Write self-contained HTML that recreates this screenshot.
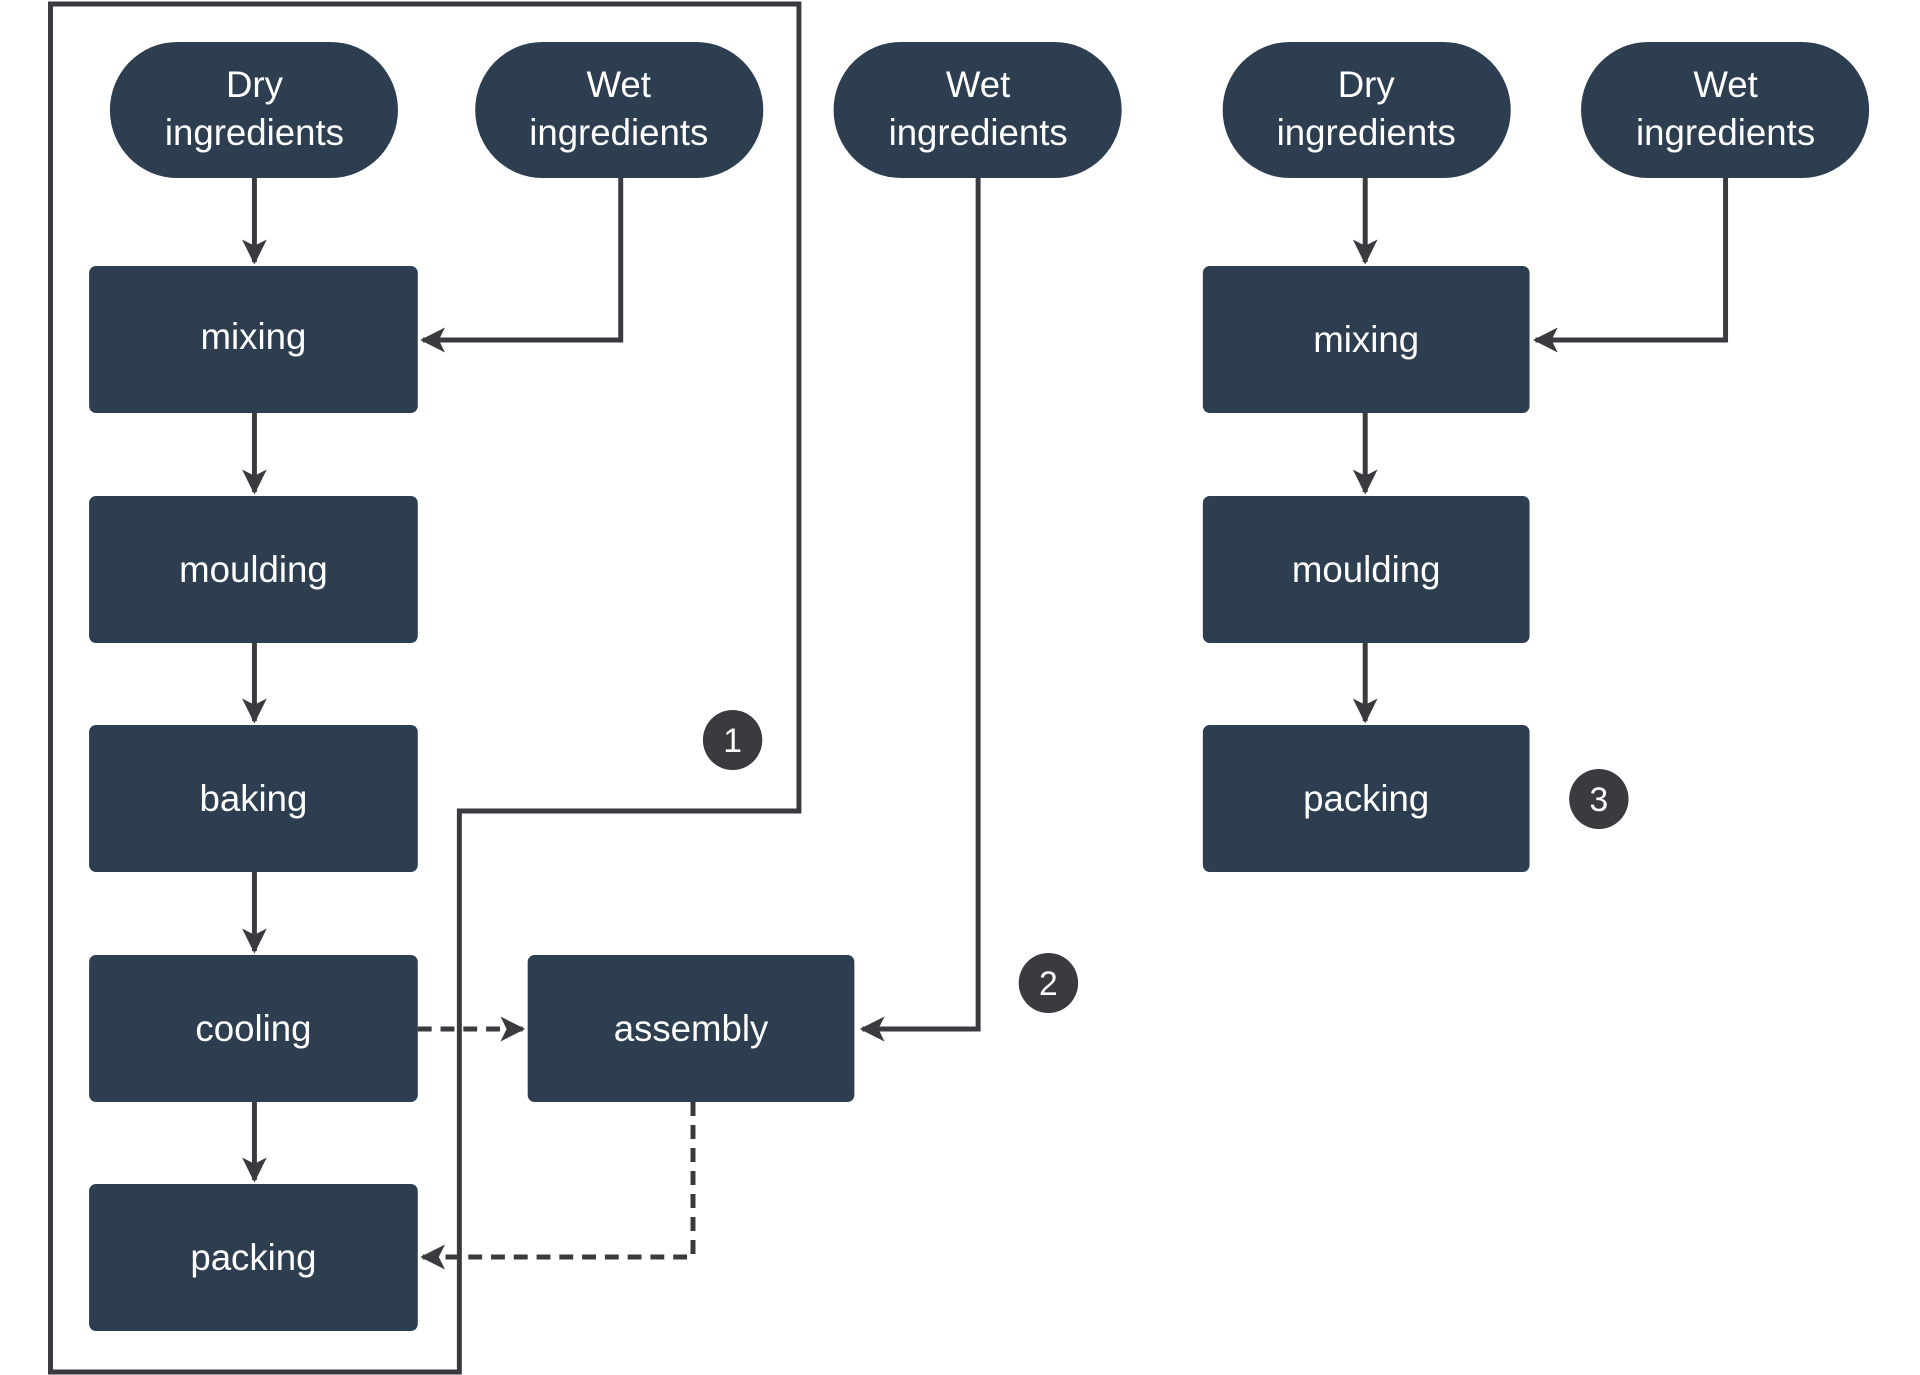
<!DOCTYPE html>
<html><head><style>html,body{margin:0;padding:0;background:#fff}svg{display:block}</style></head>
<body>
<svg width="1920" height="1375" viewBox="0 0 1920 1375" xmlns="http://www.w3.org/2000/svg" font-family="Liberation Sans, sans-serif">
<defs>
<marker id="a" viewBox="0 0 10 10" refX="9" refY="5" markerWidth="5" markerHeight="5" orient="auto" markerUnits="strokeWidth"><path d="M0,0 L10,5 L0,10 L2.5,5 z" fill="#3a3a3f"/></marker>
</defs>
<g transform="scale(0.99,1)">
<g fill="none" stroke="#3a3a3f" stroke-width="5">
<path d="M51,4 H807 V811 H464 V1372 H51 Z"/>
</g>
<g fill="#2d3e50">
<rect x="111" y="42" width="291" height="136" rx="68"/>
<rect x="480" y="42" width="291" height="136" rx="68"/>
<rect x="842" y="42" width="291" height="136" rx="68"/>
<rect x="1235" y="42" width="291" height="136" rx="68"/>
<rect x="1597" y="42" width="291" height="136" rx="68"/>
<rect x="90" y="266" width="332" height="147" rx="7"/>
<rect x="90" y="496" width="332" height="147" rx="7"/>
<rect x="90" y="725" width="332" height="147" rx="7"/>
<rect x="90" y="955" width="332" height="147" rx="7"/>
<rect x="90" y="1184" width="332" height="147" rx="7"/>
<rect x="1215" y="266" width="330" height="147" rx="7"/>
<rect x="1215" y="496" width="330" height="147" rx="7"/>
<rect x="1215" y="725" width="330" height="147" rx="7"/>
<rect x="533" y="955" width="330" height="147" rx="7"/>
</g>
<g fill="none" stroke="#3a3a3f" stroke-width="5">
<path d="M257,178 V262" marker-end="url(#a)"/>
<path d="M257,413 V492" marker-end="url(#a)"/>
<path d="M257,643 V721" marker-end="url(#a)"/>
<path d="M257,872 V951" marker-end="url(#a)"/>
<path d="M257,1102 V1180" marker-end="url(#a)"/>
<path d="M627,178 V340 H427" marker-end="url(#a)"/>
<path d="M988,178 V1029 H871" marker-end="url(#a)"/>
<path d="M1379,178 V262" marker-end="url(#a)"/>
<path d="M1379,413 V492" marker-end="url(#a)"/>
<path d="M1379,643 V721" marker-end="url(#a)"/>
<path d="M1743,178 V340 H1551" marker-end="url(#a)"/>
<path d="M422,1029 H528" stroke-dasharray="14,9" marker-end="url(#a)"/>
<path d="M700,1102 V1257 H427" stroke-dasharray="14,9" marker-end="url(#a)"/>
</g>
<g fill="#fff" font-size="37" text-anchor="middle">
<text x="257" y="97">Dry</text><text x="257" y="145">ingredients</text>
<text x="625" y="97">Wet</text><text x="625" y="145">ingredients</text>
<text x="988" y="97">Wet</text><text x="988" y="145">ingredients</text>
<text x="1380" y="97">Dry</text><text x="1380" y="145">ingredients</text>
<text x="1743" y="97">Wet</text><text x="1743" y="145">ingredients</text>
<text x="256" y="349">mixing</text>
<text x="256" y="582">moulding</text>
<text x="256" y="811">baking</text>
<text x="256" y="1041">cooling</text>
<text x="256" y="1270">packing</text>
<text x="1380" y="352">mixing</text>
<text x="1380" y="582">moulding</text>
<text x="1380" y="811">packing</text>
<text x="698" y="1041">assembly</text>
</g>
<g fill="#3a3a3f">
<circle cx="740" cy="740" r="30"/>
<circle cx="1059" cy="983" r="30"/>
<circle cx="1615" cy="799" r="30"/>
</g>
<g fill="#fff" font-size="34" text-anchor="middle">
<text x="740" y="752">1</text>
<text x="1059" y="995">2</text>
<text x="1615" y="811">3</text>
</g>
</g>
</svg>
</body></html>
